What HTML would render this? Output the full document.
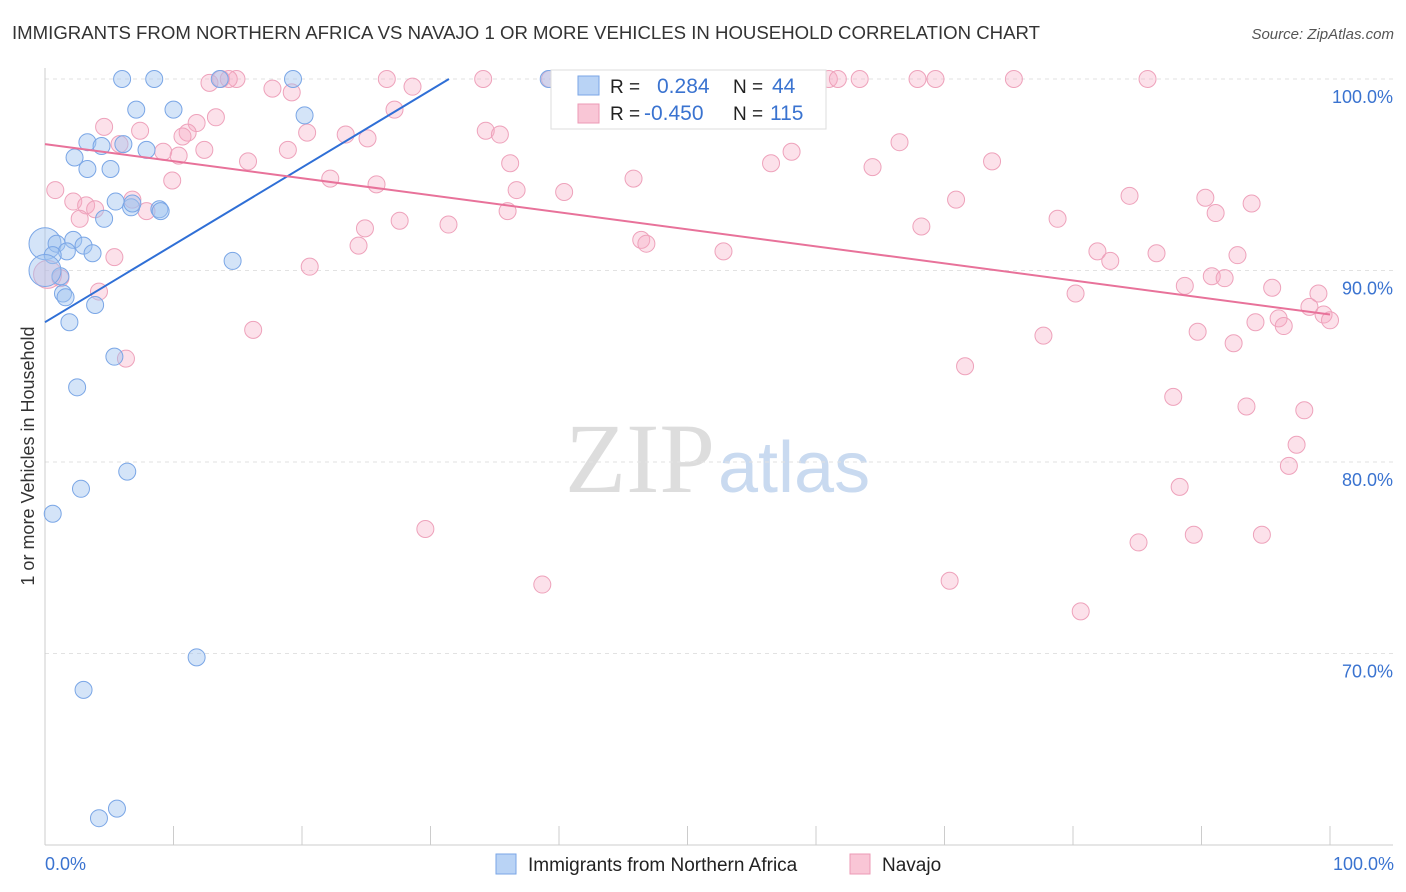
<!DOCTYPE html>
<html><head><meta charset="utf-8"><style>
body{margin:0;background:#fff;font-family:"Liberation Sans",sans-serif;}
svg{display:block}
</style></head><body>
<svg id="chart" width="1406" height="892">
<text x="12" y="39" font-size="18" fill="#333" textLength="1028" lengthAdjust="spacingAndGlyphs">IMMIGRANTS FROM NORTHERN AFRICA VS NAVAJO 1 OR MORE VEHICLES IN HOUSEHOLD CORRELATION CHART</text>
<text x="1394" y="39" font-size="15" fill="#555" text-anchor="end" font-style="italic">Source: ZipAtlas.com</text>
<text x="715" y="492" font-size="100" fill="#ddd" text-anchor="end" font-family="Liberation Serif">ZIP</text>
<text x="718" y="492" font-size="72" fill="#c9daf0">atlas</text>
<g id="grid"></g><g id="pts"></g><g id="lines"></g>
<text transform="translate(34,456) rotate(-90)" font-size="18" fill="#333" text-anchor="middle">1 or more Vehicles in Household</text>
<text x="45" y="870" font-size="18" fill="#3a73d0">0.0%</text>
<text x="1394" y="870" font-size="18" fill="#3a73d0" text-anchor="end">100.0%</text>
<g>
<rect x="551" y="70" width="275" height="59" fill="#fff" stroke="#ddd"/>
<rect x="578" y="76" width="21" height="19" fill="#b9d3f5" stroke="#7aa6e6"/>
<rect x="578" y="104" width="21" height="19" fill="#f9c6d6" stroke="#ec9ab5"/>
<text x="610" y="93" font-size="19" fill="#222">R =</text><text x="657" y="93" font-size="21" fill="#3a73d0">0.284</text>
<text x="733" y="93" font-size="19" fill="#222">N =</text><text x="772" y="93" font-size="21" fill="#3a73d0">44</text>
<text x="610" y="120" font-size="19" fill="#222">R =</text><text x="644" y="120" font-size="21" fill="#3a73d0">-0.450</text>
<text x="733" y="120" font-size="19" fill="#222">N =</text><text x="770" y="120" font-size="21" fill="#3a73d0">115</text>
</g>
<g>
<rect x="496" y="854" width="20" height="20" fill="#b9d3f5" stroke="#7aa6e6"/>
<text x="528" y="871" font-size="19" fill="#222">Immigrants from Northern Africa</text>
<rect x="850" y="854" width="20" height="20" fill="#f9c6d6" stroke="#ec9ab5"/>
<text x="882" y="871" font-size="19" fill="#222">Navajo</text>
</g>
</svg>
<script>
const yTicks=[100,90,80,70];
const yTickLabels=["100.0%","90.0%","80.0%","70.0%"];
const xTicks=[0,10,20,30,40,50,60,70,80,90,100];
const blueX=[6,8.5,13.6,19.3,39.2,7.1,10,20.2,3.3,4.4,6.1,7.9,2.3,3.3,5.1,5.5,6.7,8.9,4.6,0,0.9,2.2,3,1.7,3.7,0.6,14.6,1.2,1.4,1.6,3.9,1.9,5.4,2.5,6.4,2.8,0.6,11.8,3,5.6,4.2,0,6.8,9];
const blueY=[100,100,100,100,100,98.4,98.4,98.1,96.7,96.5,96.6,96.3,95.9,95.3,95.3,93.6,93.3,93.2,92.7,91.4,91.4,91.6,91.3,91,90.9,90.8,90.5,89.7,88.8,88.6,88.2,87.3,85.5,83.9,79.5,78.6,77.3,69.8,68.1,61.9,61.4,90,93.5,93.1];
const pinkX=[13.7,14.9,14.3,12.8,26.6,28.6,34.1,39.3,40.6,53.1,55.3,61,61.7,63.4,67.9,69.3,75.4,85.8,17.7,19.2,27.2,4.6,7.4,11.8,13.3,11.1,10.7,20.4,23.4,25.1,34.3,35.4,5.8,9.2,10.4,12.4,18.9,58.1,66.5,15.8,36.2,56.5,64.4,73.7,9.9,22.2,25.8,36.7,40.4,45.8,0.8,2.2,3.2,3.9,6.8,7.9,2.7,70.9,84.4,90.3,93.9,91.1,78.8,36,24.9,27.6,31.4,68.2,24.4,46.4,46.8,52.8,81.9,82.9,86.5,92.8,90.8,91.8,20.6,5.4,1.2,4.2,80.2,88.7,95.5,99.1,98.4,99.5,100,96,94.2,96.4,89.7,77.7,92.5,16.2,6.3,71.6,87.8,93.5,98,97.4,96.8,88.3,29.6,85.1,89.4,94.7,38.7,70.4,80.6,0.2];
const pinkY=[100,100,100,99.8,100,99.6,100,100,100,100,99.8,100,100,100,100,100,100,100,99.5,99.3,98.4,97.5,97.3,97.7,98,97.2,97,97.2,97.1,96.9,97.3,97.1,96.6,96.2,96,96.3,96.3,96.2,96.7,95.7,95.6,95.6,95.4,95.7,94.7,94.8,94.5,94.2,94.1,94.8,94.2,93.6,93.4,93.2,93.7,93.1,92.7,93.7,93.9,93.8,93.5,93,92.7,93.1,92.2,92.6,92.4,92.3,91.3,91.6,91.4,91,91,90.5,90.9,90.8,89.7,89.6,90.2,90.7,89.6,88.9,88.8,89.2,89.1,88.8,88.1,87.7,87.4,87.5,87.3,87.1,86.8,86.6,86.2,86.9,85.4,85,83.4,82.9,82.7,80.9,79.8,78.7,76.5,75.8,76.2,76.2,73.6,73.8,72.2,89.8];
const blueTrend=[87.3,0.404];
const pinkTrend=[96.6,-0.089];
const NS="http://www.w3.org/2000/svg";
const xs=v=>45+v*12.85, ys=v=>79+(100-v)*19.15;
function mk(t,a,p){const e=document.createElementNS(NS,t);for(const k in a)e.setAttribute(k,a[k]);p.appendChild(e);return e;}
const grid=document.getElementById('grid');
yTicks.forEach((t,i)=>{
 const l=mk('line',{x1:45,x2:1393,y1:ys(t),y2:ys(t),stroke:'#e2e2e2','stroke-dasharray':'4,4'},grid);
 
 
 const tx=mk('text',{x:1393,y:ys(t)+24,'font-size':18,fill:'#3a73d0','text-anchor':'end'},grid);
 tx.textContent=yTickLabels[i];
 
 
});
const ax=mk('line',{x1:45,x2:45,y1:68,y2:845,stroke:'#ccc'},grid);


const bx=mk('line',{x1:45,x2:1393,y1:845,y2:845,stroke:'#ccc'},grid);


xTicks.forEach(t=>{const l=mk('line',{x1:xs(t),x2:xs(t),y1:826,y2:845,stroke:'#ccc'},grid);
 
 });
const pts=document.getElementById('pts');
pinkX.forEach((x,i)=>{const c=mk('circle',{cx:xs(x),cy:ys(pinkY[i]),r:i===pinkX.length-1?14:8.5,fill:'rgba(246,170,195,0.35)',stroke:'#eea2bb','stroke-width':1},pts);
 
 });
blueX.forEach((x,i)=>{const big=(i===19||i===41);const c=mk('circle',{cx:xs(x),cy:ys(blueY[i]),r:big?16:8.5,fill:'rgba(160,195,240,0.45)',stroke:'#7aa6e6','stroke-width':1},pts);
 
 });
const lines=document.getElementById('lines');
const bxEnd=(100-blueTrend[0])/blueTrend[1];
const bl=mk('line',{x1:xs(0),y1:ys(blueTrend[0]),x2:xs(bxEnd),y2:ys(100),stroke:'#2f6fd6','stroke-width':2},lines);


const pl=mk('line',{x1:xs(0),y1:ys(pinkTrend[0]),x2:xs(100),y2:ys(pinkTrend[0]+pinkTrend[1]*100),stroke:'#e8729a','stroke-width':2},lines);


</script>
</body></html>
